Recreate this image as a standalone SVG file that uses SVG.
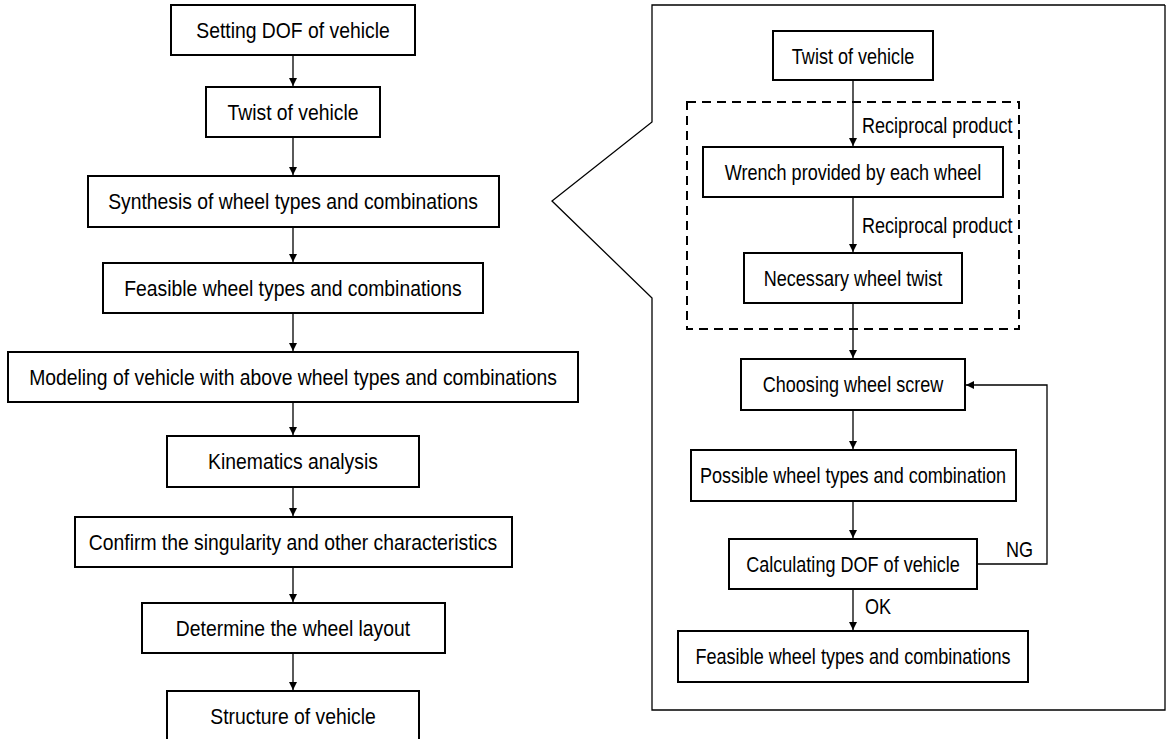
<svg xmlns="http://www.w3.org/2000/svg" width="1171" height="739" viewBox="0 0 1171 739">
  <style>
    .box { fill: #fff; stroke: #000; stroke-width: 2; }
    .lbl { font-family: "Liberation Sans", Arial, sans-serif; font-size: 21.5px; fill: #000; text-anchor: middle; }
    .note { font-family: "Liberation Sans", Arial, sans-serif; font-size: 21.5px; fill: #000; }
    .edge { fill: none; stroke: #000; stroke-width: 1.3; }
    .frame { fill: none; stroke: #000; stroke-width: 1.3; }
    .dash { fill: none; stroke: #000; stroke-width: 2; stroke-dasharray: 9 6; }
  </style>
  <defs>
    <marker id="arr" viewBox="0 0 10 10" refX="10" refY="5" markerWidth="8" markerHeight="8" markerUnits="userSpaceOnUse" orient="auto">
      <path d="M0,0 L10,5 L0,10 Z" fill="#000"/>
    </marker>
  </defs>
  <rect width="1171" height="739" fill="#fff"/>

  <!-- callout frame expanding the synthesis step -->
  <g id="detail-frame">
    <polyline class="frame" points="1165,5 652,5 652,122 552,201 652,298 652,710 1165,710 1165,5"/>
    <rect class="dash" x="687" y="102" width="332" height="227"/>
  </g>

  <g id="connectors">
    <line class="edge" x1="293" y1="56" x2="293" y2="86" marker-end="url(#arr)"/>
    <line class="edge" x1="293" y1="138" x2="293" y2="175" marker-end="url(#arr)"/>
    <line class="edge" x1="293" y1="228" x2="293" y2="262" marker-end="url(#arr)"/>
    <line class="edge" x1="293" y1="314" x2="293" y2="351" marker-end="url(#arr)"/>
    <line class="edge" x1="293" y1="403" x2="293" y2="435" marker-end="url(#arr)"/>
    <line class="edge" x1="293" y1="488" x2="293" y2="516" marker-end="url(#arr)"/>
    <line class="edge" x1="293" y1="568" x2="293" y2="602" marker-end="url(#arr)"/>
    <line class="edge" x1="293" y1="654" x2="293" y2="690" marker-end="url(#arr)"/>

    <line class="edge" x1="853" y1="81" x2="853" y2="146" marker-end="url(#arr)"/>
    <line class="edge" x1="853" y1="198" x2="853" y2="252" marker-end="url(#arr)"/>
    <line class="edge" x1="853" y1="304" x2="853" y2="358" marker-end="url(#arr)"/>
    <line class="edge" x1="853" y1="411" x2="853" y2="449" marker-end="url(#arr)"/>
    <line class="edge" x1="853" y1="502" x2="853" y2="538" marker-end="url(#arr)"/>
    <line class="edge" x1="853" y1="590" x2="853" y2="630" marker-end="url(#arr)"/>
    <polyline class="edge" points="978,564 1047,564 1047,385 966,385" marker-end="url(#arr)"/>

    <text class="note" transform="translate(862,133) scale(0.84,1)">Reciprocal product</text>
    <text class="note" transform="translate(862,233) scale(0.84,1)">Reciprocal product</text>
    <text class="note" transform="translate(1006,557) scale(0.84,1)">NG</text>
    <text class="note" transform="translate(865,614) scale(0.84,1)">OK</text>
  </g>

  <!-- main procedure -->
  <g id="n-setting-dof">
    <rect class="box" x="171" y="5" width="244" height="50"/>
    <text class="lbl" transform="translate(293,38) scale(0.9,1)">Setting DOF of vehicle</text>
  </g>
  <g id="n-twist">
    <rect class="box" x="206" y="87" width="174" height="50"/>
    <text class="lbl" transform="translate(293,120) scale(0.9,1)">Twist of vehicle</text>
  </g>
  <g id="n-synthesis">
    <rect class="box" x="88" y="176" width="411" height="51"/>
    <text class="lbl" transform="translate(293,209) scale(0.9,1)">Synthesis of wheel types and combinations</text>
  </g>
  <g id="n-feasible">
    <rect class="box" x="103" y="263" width="380" height="50"/>
    <text class="lbl" transform="translate(293,296) scale(0.9,1)">Feasible wheel types and combinations</text>
  </g>
  <g id="n-modeling">
    <rect class="box" x="8" y="352" width="570" height="50"/>
    <text class="lbl" transform="translate(293,385) scale(0.9,1)">Modeling of vehicle with above wheel types and combinations</text>
  </g>
  <g id="n-kinematics">
    <rect class="box" x="167" y="436" width="252" height="51"/>
    <text class="lbl" transform="translate(293,469) scale(0.9,1)">Kinematics analysis</text>
  </g>
  <g id="n-confirm">
    <rect class="box" x="75" y="517" width="437" height="50"/>
    <text class="lbl" transform="translate(293,550) scale(0.9,1)">Confirm the singularity and other characteristics</text>
  </g>
  <g id="n-layout">
    <rect class="box" x="142" y="603" width="303" height="50"/>
    <text class="lbl" transform="translate(293,636) scale(0.9,1)">Determine the wheel layout</text>
  </g>
  <g id="n-structure">
    <rect class="box" x="167" y="691" width="252" height="50"/>
    <text class="lbl" transform="translate(293,724) scale(0.9,1)">Structure of vehicle</text>
  </g>

  <!-- synthesis detail -->
  <g id="d-twist">
    <rect class="box" x="773" y="31" width="160" height="49"/>
    <text class="lbl" transform="translate(853,64) scale(0.84,1)">Twist of vehicle</text>
  </g>
  <g id="d-wrench">
    <rect class="box" x="703" y="147" width="300" height="50"/>
    <text class="lbl" transform="translate(853,180) scale(0.84,1)">Wrench provided by each wheel</text>
  </g>
  <g id="d-necessary">
    <rect class="box" x="744" y="253" width="218" height="50"/>
    <text class="lbl" transform="translate(853,286) scale(0.84,1)">Necessary wheel twist</text>
  </g>
  <g id="d-choosing">
    <rect class="box" x="741" y="359" width="224" height="51"/>
    <text class="lbl" transform="translate(853,392) scale(0.84,1)">Choosing wheel screw</text>
  </g>
  <g id="d-possible">
    <rect class="box" x="691" y="450" width="325" height="51"/>
    <text class="lbl" transform="translate(853,483) scale(0.84,1)">Possible wheel types and combination</text>
  </g>
  <g id="d-calculating">
    <rect class="box" x="729" y="539" width="248" height="50"/>
    <text class="lbl" transform="translate(853,572) scale(0.84,1)">Calculating DOF of vehicle</text>
  </g>
  <g id="d-feasible">
    <rect class="box" x="678" y="631" width="350" height="51"/>
    <text class="lbl" transform="translate(853,664) scale(0.84,1)">Feasible wheel types and combinations</text>
  </g>
</svg>
